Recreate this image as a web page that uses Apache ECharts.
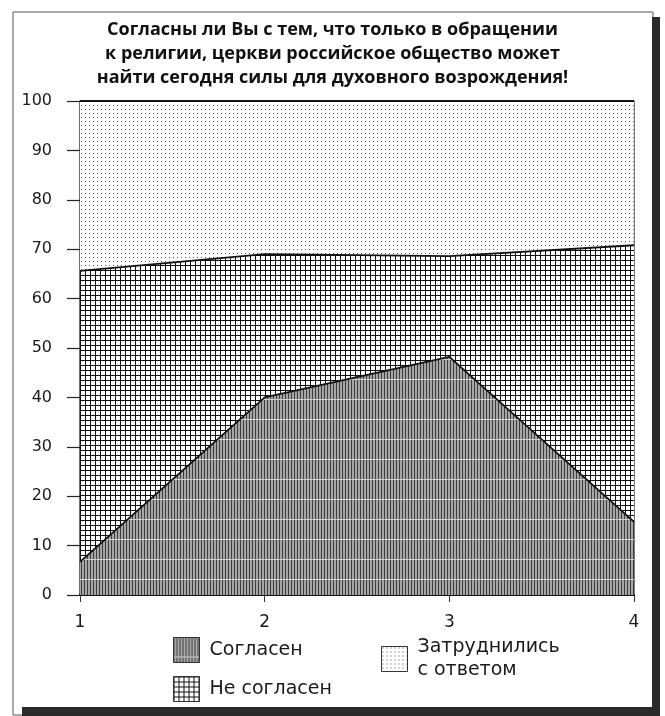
<!DOCTYPE html>
<html>
<head>
<meta charset="utf-8">
<script src="https://cdn.jsdelivr.net/npm/echarts@6/dist/echarts.min.js"></script>
<style>
  html, body { margin: 0; padding: 0; background: #fff; }
  #chart { width: 665px; height: 716px; }
</style>
</head>
<body>
<div id="chart"></div>
<script>
// данные опроса
const categories = ['1', '2', '3', '4'];
const agree = [6.7, 40, 48.2, 14.8];        // Согласен
const disagree = [58.9, 29, 20.4, 56];      // Не согласен
const unsure = [34.4, 31, 31.4, 29.2];      // Затруднились с ответом
const yTicks = [0, 100, 10];                // min, max, шаг

const titleText = 'Согласны ли Вы с тем, что только в обращении\n' +
  'к религии, церкви российское общество может\n' +
  'найти сегодня силы для духовного возрождения!';

// штриховки
function makePattern(w, h, draw) {
  let c = document.createElement('canvas');
  c.width = w;
  c.height = h;
  draw(c.getContext('2d'));
  return { image: c, repeat: 'repeat' };
}

const stripes = makePattern(3, 20, function (ctx) {
  ctx.fillStyle = '#a6a6a6';
  ctx.fillRect(0, 0, 3, 20);
  ctx.fillStyle = '#3c3c3c';
  ctx.fillRect(0, 0, 1, 20);
  ctx.fillStyle = '#d0d0d0';
  ctx.fillRect(0, 19, 3, 1);
});

const grid = makePattern(5, 5, function (ctx) {
  ctx.fillStyle = '#ffffff';
  ctx.fillRect(0, 0, 5, 5);
  ctx.fillStyle = '#111111';
  ctx.fillRect(0, 0, 5, 1);
  ctx.fillRect(0, 0, 1, 5);
});

const dots = makePattern(4, 4, function (ctx) {
  ctx.fillStyle = '#ffffff';
  ctx.fillRect(0, 0, 4, 4);
  ctx.fillStyle = '#555555';
  ctx.fillRect(1, 1, 1, 1);
});

const font = 'DejaVu Sans';

function legendBox(name, left, top, pattern, formatter) {
  return {
    left: left,
    top: top,
    padding: 0,
    icon: 'rect',
    itemWidth: 26,
    itemHeight: 25,
    selectedMode: false,
    formatter: formatter,
    textStyle: { fontFamily: font, fontSize: 19, color: '#1a1a1a', lineHeight: 23, padding: [0, 0, 0, 5] },
    data: [{ name: name, itemStyle: { color: pattern, borderColor: '#333', borderWidth: 1 } }]
  };
}

function lineSeries(name, values, pattern) {
  return {
    name: name,
    type: 'line',
    stack: 'total',
    symbol: 'none',
    data: values,
    lineStyle: { color: '#111', width: 1.8 },
    areaStyle: { color: pattern, opacity: 1 }
  };
}

let chart = echarts.init(document.getElementById('chart'));
chart.setOption({
  animation: false,
  backgroundColor: '#fff',
  title: {
    text: titleText,
    left: 'center',
    top: 13,
    textStyle: { fontFamily: 'Open Sans', fontWeight: 'bold', fontSize: 18, lineHeight: 24, color: '#111' }
  },
  grid: {
    left: 80, right: 31, top: 101, bottom: 121,
    show: true, borderColor: '#222', borderWidth: 1.2
  },
  legend: [
    legendBox('Согласен', 173, 637, stripes),
    legendBox('Не согласен', 173, 676, grid),
    legendBox('Затруднились с ответом', 381, 636, dots, function (n) {
      return 'Затруднились\nс ответом';
    })
  ],
  xAxis: {
    type: 'category',
    boundaryGap: false,
    data: categories,
    axisLine: { lineStyle: { color: '#111', width: 2 } },
    axisTick: { length: 7, lineStyle: { color: '#333' } },
    axisLabel: { fontFamily: font, fontSize: 17, color: '#1a1a1a', margin: 19 },
    splitLine: { show: false }
  },
  yAxis: {
    type: 'value',
    min: yTicks[0],
    max: yTicks[1],
    interval: yTicks[2],
    axisLine: { show: true, lineStyle: { color: '#111', width: 1.2 } },
    axisTick: { show: true, length: 13, lineStyle: { color: '#222', width: 1.2 } },
    axisLabel: { fontFamily: font, fontSize: 16, color: '#1a1a1a', margin: 28 },
    splitLine: { show: false }
  },
  series: [
    lineSeries('Согласен', agree, stripes),
    lineSeries('Не согласен', disagree, grid),
    lineSeries('Затруднились с ответом', unsure, dots)
  ],
  graphic: [
    { type: 'rect', shape: { x: 13, y: 12, width: 640, height: 703 }, style: { fill: null, stroke: '#555', lineWidth: 1 } },
    { type: 'rect', shape: { x: 652, y: 17, width: 8, height: 699 }, style: { fill: '#2a2a2a' } },
    { type: 'rect', shape: { x: 22, y: 707, width: 638, height: 9 }, style: { fill: '#2a2a2a' } }
  ]
});
</script>
</body>
</html>
